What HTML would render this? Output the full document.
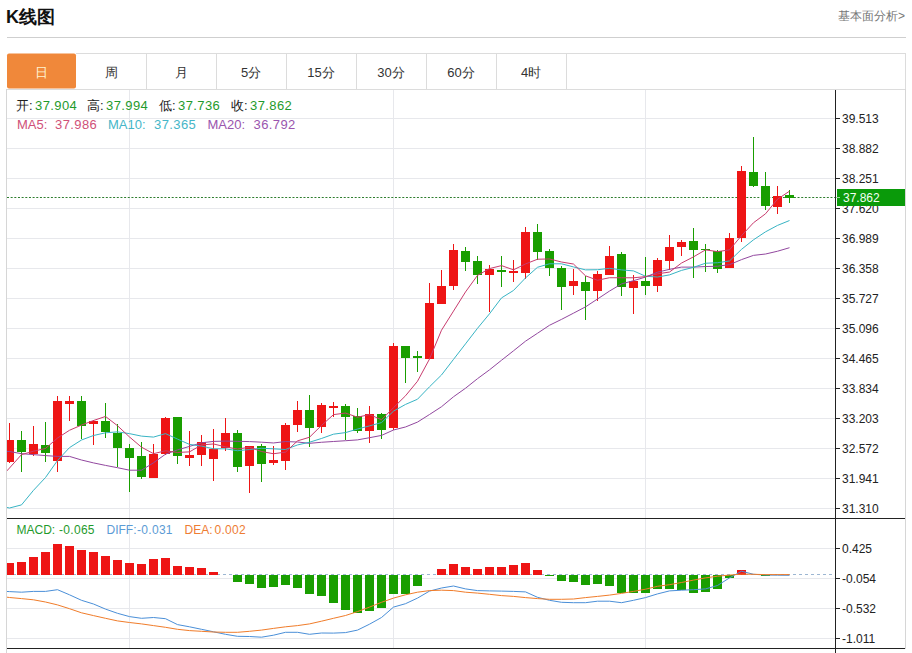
<!DOCTYPE html>
<html><head><meta charset="utf-8"><title>K线图</title>
<style>
html,body{margin:0;padding:0;background:#fff;}
body{width:912px;height:653px;position:relative;overflow:hidden;font-family:"Liberation Sans",sans-serif;}
.a{position:absolute;white-space:nowrap;line-height:1;}
.t{left:6px;top:7.6px;font-size:18px;font-weight:bold;color:#111;}
.lk{right:7px;top:10px;font-size:12px;color:#777;}
.tab{top:65.5px;font-size:13px;color:#333;width:70px;text-align:center;}
.lg{font-size:13px;}.lm{font-size:12px;}
.k{color:#222}.gv{color:#1f9a2c}
.m5{color:#d05078}.m10{color:#45b6c8}.m20{color:#9a55ae}
.v{letter-spacing:0.4px}.v2{letter-spacing:0.3px}
.md{color:#1f9a2c}.df{color:#5b9bd5}.de{color:#ee7d33}
</style></head><body>
<svg width="912" height="653" viewBox="0 0 912 653" style="position:absolute;left:0;top:0"><rect x="7" y="37" width="899" height="1" fill="#cfcfcf"/>
<rect x="76" y="53" width="830" height="1" fill="#dcdcdc"/>
<rect x="6" y="89" width="900" height="1" fill="#dcdcdc"/>
<rect x="905" y="53" width="1" height="36" fill="#dcdcdc"/>
<rect x="146" y="54" width="1" height="35" fill="#dcdcdc"/>
<rect x="216" y="54" width="1" height="35" fill="#dcdcdc"/>
<rect x="286" y="54" width="1" height="35" fill="#dcdcdc"/>
<rect x="356" y="54" width="1" height="35" fill="#dcdcdc"/>
<rect x="426" y="54" width="1" height="35" fill="#dcdcdc"/>
<rect x="496" y="54" width="1" height="35" fill="#dcdcdc"/>
<rect x="566" y="54" width="1" height="35" fill="#dcdcdc"/>
<rect x="7" y="53.6" width="69" height="35" rx="2" ry="2" fill="#f0883a"/>
<rect x="6" y="89" width="1" height="564" fill="#d6d6d6"/>
<rect x="905" y="89" width="1" height="560" fill="#d6d6d6"/>
<rect x="7" y="118" width="828" height="1" fill="#e7e8ec"/><rect x="7" y="148" width="828" height="1" fill="#e7e8ec"/><rect x="7" y="178" width="828" height="1" fill="#e7e8ec"/><rect x="7" y="208" width="828" height="1" fill="#e7e8ec"/><rect x="7" y="238" width="828" height="1" fill="#e7e8ec"/><rect x="7" y="268" width="828" height="1" fill="#e7e8ec"/><rect x="7" y="298" width="828" height="1" fill="#e7e8ec"/><rect x="7" y="328" width="828" height="1" fill="#e7e8ec"/><rect x="7" y="358" width="828" height="1" fill="#e7e8ec"/><rect x="7" y="388" width="828" height="1" fill="#e7e8ec"/><rect x="7" y="418" width="828" height="1" fill="#e7e8ec"/><rect x="7" y="448" width="828" height="1" fill="#e7e8ec"/><rect x="7" y="478" width="828" height="1" fill="#e7e8ec"/><rect x="7" y="508" width="828" height="1" fill="#e7e8ec"/><rect x="7" y="548" width="828" height="1" fill="#e7e8ec"/><rect x="7" y="578" width="828" height="1" fill="#e7e8ec"/><rect x="7" y="608" width="828" height="1" fill="#e7e8ec"/><rect x="7" y="638" width="828" height="1" fill="#e7e8ec"/><rect x="129" y="90" width="1" height="428" fill="#e7e8ec"/><rect x="129" y="519" width="1" height="129" fill="#e7e8ec"/><rect x="393" y="90" width="1" height="428" fill="#e7e8ec"/><rect x="393" y="519" width="1" height="129" fill="#e7e8ec"/><rect x="645" y="90" width="1" height="428" fill="#e7e8ec"/><rect x="645" y="519" width="1" height="129" fill="#e7e8ec"/>
<rect x="835" y="90" width="1" height="563" fill="#222"/>
<rect x="7" y="518" width="898" height="1" fill="#222"/>
<rect x="7" y="648" width="898" height="1" fill="#222"/>
<g font-family="Liberation Sans, sans-serif" font-size="12" fill="#222"><rect x="836" y="118" width="4" height="1" fill="#222"/><text x="842" y="123">39.513</text><rect x="836" y="148" width="4" height="1" fill="#222"/><text x="842" y="153">38.882</text><rect x="836" y="178" width="4" height="1" fill="#222"/><text x="842" y="183">38.251</text><rect x="836" y="208" width="4" height="1" fill="#222"/><text x="842" y="213">37.620</text><rect x="836" y="238" width="4" height="1" fill="#222"/><text x="842" y="243">36.989</text><rect x="836" y="268" width="4" height="1" fill="#222"/><text x="842" y="273">36.358</text><rect x="836" y="298" width="4" height="1" fill="#222"/><text x="842" y="303">35.727</text><rect x="836" y="328" width="4" height="1" fill="#222"/><text x="842" y="333">35.096</text><rect x="836" y="358" width="4" height="1" fill="#222"/><text x="842" y="363">34.465</text><rect x="836" y="388" width="4" height="1" fill="#222"/><text x="842" y="393">33.834</text><rect x="836" y="418" width="4" height="1" fill="#222"/><text x="842" y="423">33.203</text><rect x="836" y="448" width="4" height="1" fill="#222"/><text x="842" y="453">32.572</text><rect x="836" y="478" width="4" height="1" fill="#222"/><text x="842" y="483">31.941</text><rect x="836" y="508" width="4" height="1" fill="#222"/><text x="842" y="513">31.310</text><rect x="836" y="548" width="4" height="1" fill="#222"/><text x="842" y="553">0.425</text><rect x="836" y="578" width="4" height="1" fill="#222"/><text x="842" y="583">-0.054</text><rect x="836" y="608" width="4" height="1" fill="#222"/><text x="842" y="613">-0.532</text><rect x="836" y="638" width="4" height="1" fill="#222"/><text x="842" y="643">-1.011</text></g>
<defs><clipPath id="cp"><rect x="7" y="90" width="828" height="428"/></clipPath><clipPath id="cm"><rect x="7" y="519" width="828" height="129"/></clipPath></defs>
<g clip-path="url(#cp)"><line x1="7" y1="197.5" x2="835" y2="197.5" stroke="#2e7d2e" stroke-width="1" stroke-dasharray="2,1.66"/><rect x="9" y="423" width="1" height="40" fill="rgb(238,21,21)"/><rect x="5" y="440" width="9" height="22" fill="rgb(238,21,21)"/><rect x="21" y="431" width="1" height="41" fill="rgb(25,158,0)"/><rect x="17" y="440" width="9" height="12" fill="rgb(25,158,0)"/><rect x="33" y="426" width="1" height="30" fill="rgb(238,21,21)"/><rect x="29" y="444" width="9" height="10" fill="rgb(238,21,21)"/><rect x="45" y="422" width="1" height="40" fill="rgb(25,158,0)"/><rect x="41" y="445" width="9" height="8" fill="rgb(25,158,0)"/><rect x="57" y="396" width="1" height="76" fill="rgb(238,21,21)"/><rect x="53" y="401" width="9" height="60" fill="rgb(238,21,21)"/><rect x="69" y="396" width="1" height="25" fill="rgb(238,21,21)"/><rect x="65" y="401" width="9" height="3" fill="rgb(238,21,21)"/><rect x="81" y="396" width="1" height="43" fill="rgb(25,158,0)"/><rect x="77" y="401" width="9" height="25" fill="rgb(25,158,0)"/><rect x="93" y="420" width="1" height="25" fill="rgb(238,21,21)"/><rect x="89" y="421" width="9" height="3" fill="rgb(238,21,21)"/><rect x="105" y="403" width="1" height="35" fill="rgb(25,158,0)"/><rect x="101" y="421" width="9" height="11" fill="rgb(25,158,0)"/><rect x="117" y="424" width="1" height="43" fill="rgb(25,158,0)"/><rect x="113" y="433" width="9" height="15" fill="rgb(25,158,0)"/><rect x="129" y="444" width="1" height="48" fill="rgb(25,158,0)"/><rect x="125" y="448" width="9" height="10" fill="rgb(25,158,0)"/><rect x="141" y="442" width="1" height="37" fill="rgb(25,158,0)"/><rect x="137" y="456" width="9" height="21" fill="rgb(25,158,0)"/><rect x="153" y="444" width="1" height="34" fill="rgb(238,21,21)"/><rect x="149" y="454" width="9" height="24" fill="rgb(238,21,21)"/><rect x="165" y="417" width="1" height="38" fill="rgb(238,21,21)"/><rect x="161" y="418" width="9" height="36" fill="rgb(238,21,21)"/><rect x="177" y="417" width="1" height="47" fill="rgb(25,158,0)"/><rect x="173" y="417" width="9" height="39" fill="rgb(25,158,0)"/><rect x="189" y="431" width="1" height="35" fill="rgb(238,21,21)"/><rect x="185" y="455" width="9" height="3" fill="rgb(238,21,21)"/><rect x="201" y="435" width="1" height="31" fill="rgb(238,21,21)"/><rect x="197" y="442" width="9" height="13" fill="rgb(238,21,21)"/><rect x="213" y="429" width="1" height="52" fill="rgb(238,21,21)"/><rect x="209" y="449" width="9" height="10" fill="rgb(238,21,21)"/><rect x="225" y="418" width="1" height="33" fill="rgb(238,21,21)"/><rect x="221" y="433" width="9" height="15" fill="rgb(238,21,21)"/><rect x="237" y="430" width="1" height="42" fill="rgb(25,158,0)"/><rect x="233" y="433" width="9" height="34" fill="rgb(25,158,0)"/><rect x="249" y="446" width="1" height="47" fill="rgb(238,21,21)"/><rect x="245" y="446" width="9" height="20" fill="rgb(238,21,21)"/><rect x="261" y="444" width="1" height="38" fill="rgb(25,158,0)"/><rect x="257" y="446" width="9" height="18" fill="rgb(25,158,0)"/><rect x="273" y="446" width="1" height="19" fill="rgb(238,21,21)"/><rect x="269" y="460" width="9" height="3" fill="rgb(238,21,21)"/><rect x="285" y="423" width="1" height="47" fill="rgb(238,21,21)"/><rect x="281" y="425" width="9" height="36" fill="rgb(238,21,21)"/><rect x="297" y="401" width="1" height="31" fill="rgb(238,21,21)"/><rect x="293" y="410" width="9" height="15" fill="rgb(238,21,21)"/><rect x="309" y="395" width="1" height="52" fill="rgb(25,158,0)"/><rect x="305" y="410" width="9" height="18" fill="rgb(25,158,0)"/><rect x="321" y="403" width="1" height="30" fill="rgb(238,21,21)"/><rect x="317" y="405" width="9" height="22" fill="rgb(238,21,21)"/><rect x="333" y="402" width="1" height="15" fill="rgb(238,21,21)"/><rect x="329" y="406" width="9" height="2" fill="rgb(238,21,21)"/><rect x="345" y="404" width="1" height="36" fill="rgb(25,158,0)"/><rect x="341" y="406" width="9" height="11" fill="rgb(25,158,0)"/><rect x="357" y="408" width="1" height="25" fill="rgb(25,158,0)"/><rect x="353" y="416" width="9" height="15" fill="rgb(25,158,0)"/><rect x="369" y="406" width="1" height="37" fill="rgb(238,21,21)"/><rect x="365" y="414" width="9" height="17" fill="rgb(238,21,21)"/><rect x="381" y="413" width="1" height="26" fill="rgb(25,158,0)"/><rect x="377" y="414" width="9" height="16" fill="rgb(25,158,0)"/><rect x="393" y="343" width="1" height="87" fill="rgb(238,21,21)"/><rect x="389" y="346" width="9" height="82" fill="rgb(238,21,21)"/><rect x="405" y="346" width="1" height="37" fill="rgb(25,158,0)"/><rect x="401" y="346" width="9" height="12" fill="rgb(25,158,0)"/><rect x="417" y="351" width="1" height="21" fill="rgb(25,158,0)"/><rect x="413" y="356" width="9" height="2" fill="rgb(25,158,0)"/><rect x="429" y="283" width="1" height="76" fill="rgb(238,21,21)"/><rect x="425" y="303" width="9" height="56" fill="rgb(238,21,21)"/><rect x="441" y="270" width="1" height="34" fill="rgb(238,21,21)"/><rect x="437" y="286" width="9" height="18" fill="rgb(238,21,21)"/><rect x="453" y="244" width="1" height="46" fill="rgb(238,21,21)"/><rect x="449" y="250" width="9" height="36" fill="rgb(238,21,21)"/><rect x="465" y="247" width="1" height="24" fill="rgb(25,158,0)"/><rect x="461" y="251" width="9" height="11" fill="rgb(25,158,0)"/><rect x="477" y="256" width="1" height="28" fill="rgb(25,158,0)"/><rect x="473" y="261" width="9" height="14" fill="rgb(25,158,0)"/><rect x="489" y="265" width="1" height="47" fill="rgb(238,21,21)"/><rect x="485" y="269" width="9" height="6" fill="rgb(238,21,21)"/><rect x="501" y="256" width="1" height="31" fill="rgb(25,158,0)"/><rect x="497" y="270" width="9" height="2" fill="rgb(25,158,0)"/><rect x="513" y="260" width="1" height="22" fill="rgb(238,21,21)"/><rect x="509" y="271" width="9" height="2" fill="rgb(238,21,21)"/><rect x="525" y="227" width="1" height="52" fill="rgb(238,21,21)"/><rect x="521" y="232" width="9" height="41" fill="rgb(238,21,21)"/><rect x="537" y="224" width="1" height="36" fill="rgb(25,158,0)"/><rect x="533" y="232" width="9" height="20" fill="rgb(25,158,0)"/><rect x="549" y="249" width="1" height="27" fill="rgb(25,158,0)"/><rect x="545" y="251" width="9" height="17" fill="rgb(25,158,0)"/><rect x="561" y="266" width="1" height="44" fill="rgb(25,158,0)"/><rect x="557" y="268" width="9" height="19" fill="rgb(25,158,0)"/><rect x="573" y="269" width="1" height="26" fill="rgb(238,21,21)"/><rect x="569" y="281" width="9" height="5" fill="rgb(238,21,21)"/><rect x="585" y="276" width="1" height="44" fill="rgb(25,158,0)"/><rect x="581" y="282" width="9" height="9" fill="rgb(25,158,0)"/><rect x="597" y="271" width="1" height="30" fill="rgb(238,21,21)"/><rect x="593" y="274" width="9" height="17" fill="rgb(238,21,21)"/><rect x="609" y="246" width="1" height="29" fill="rgb(238,21,21)"/><rect x="605" y="256" width="9" height="19" fill="rgb(238,21,21)"/><rect x="621" y="252" width="1" height="44" fill="rgb(25,158,0)"/><rect x="617" y="254" width="9" height="33" fill="rgb(25,158,0)"/><rect x="633" y="275" width="1" height="39" fill="rgb(238,21,21)"/><rect x="629" y="281" width="9" height="7" fill="rgb(238,21,21)"/><rect x="645" y="257" width="1" height="38" fill="rgb(25,158,0)"/><rect x="641" y="281" width="9" height="5" fill="rgb(25,158,0)"/><rect x="657" y="258" width="1" height="34" fill="rgb(238,21,21)"/><rect x="653" y="260" width="9" height="26" fill="rgb(238,21,21)"/><rect x="669" y="235" width="1" height="35" fill="rgb(238,21,21)"/><rect x="665" y="247" width="9" height="14" fill="rgb(238,21,21)"/><rect x="681" y="240" width="1" height="16" fill="rgb(238,21,21)"/><rect x="677" y="242" width="9" height="5" fill="rgb(238,21,21)"/><rect x="693" y="228" width="1" height="50" fill="rgb(25,158,0)"/><rect x="689" y="241" width="9" height="9" fill="rgb(25,158,0)"/><rect x="705" y="244" width="1" height="28" fill="rgb(25,158,0)"/><rect x="701" y="249" width="9" height="1" fill="rgb(25,158,0)"/><rect x="717" y="250" width="1" height="23" fill="rgb(25,158,0)"/><rect x="713" y="251" width="9" height="18" fill="rgb(25,158,0)"/><rect x="729" y="233" width="1" height="35" fill="rgb(238,21,21)"/><rect x="725" y="238" width="9" height="30" fill="rgb(238,21,21)"/><rect x="741" y="166" width="1" height="76" fill="rgb(238,21,21)"/><rect x="737" y="171" width="9" height="67" fill="rgb(238,21,21)"/><rect x="753" y="137" width="1" height="50" fill="rgb(25,158,0)"/><rect x="749" y="172" width="9" height="14" fill="rgb(25,158,0)"/><rect x="765" y="172" width="1" height="38" fill="rgb(25,158,0)"/><rect x="761" y="186" width="9" height="20" fill="rgb(25,158,0)"/><rect x="777" y="186" width="1" height="28" fill="rgb(238,21,21)"/><rect x="773" y="196" width="9" height="11" fill="rgb(238,21,21)"/><rect x="789" y="190" width="1" height="13" fill="rgb(25,158,0)"/><rect x="785" y="195" width="9" height="3" fill="rgb(25,158,0)"/><polyline points="-2.5,451 9.5,451.5 21.5,453.7 33.5,454.6 45.5,455.6 57.5,456.4 69.5,456.4 81.5,460 93.5,462.9 105.5,465.4 117.5,467.7 129.5,470.2 141.5,470.2 153.5,462.8 165.5,454.2 177.5,449.9 189.5,446.4 201.5,442.8 213.5,441.4 225.5,441.1 237.5,441.3 249.5,441.59 261.5,442.18 273.5,442.96 285.5,441.56 297.5,442.01 309.5,443.32 321.5,442.27 333.5,441.49 345.5,440.72 357.5,439.89 369.5,437.71 381.5,435.41 393.5,430 405.5,426.97 417.5,422.09 429.5,414.5 441.5,406.72 453.5,396.78 465.5,388.24 477.5,378.67 489.5,369.84 501.5,360.25 513.5,350.81 525.5,341.19 537.5,333.25 549.5,325.28 561.5,319.39 573.5,313.16 585.5,306.87 597.5,299.01 609.5,291.07 621.5,283.9 633.5,280.69 645.5,277.07 657.5,272.17 669.5,269.33 681.5,267.12 693.5,267.12 705.5,266.56 717.5,266.23 729.5,264.66 741.5,259.62 753.5,255.36 765.5,254.02 777.5,251.23 789.5,247.71" fill="none" stroke="#92489f" stroke-width="1" stroke-linejoin="round"/><polyline points="-2.5,505.5 9.5,508 21.5,504.9 33.5,490.3 45.5,477.5 57.5,460.5 69.5,447.6 81.5,440 93.5,435.5 105.5,432.8 117.5,431.87 129.5,433.63 141.5,436.12 153.5,437.08 165.5,433.62 177.5,439.08 189.5,444.42 201.5,446.07 213.5,448.8 225.5,448.84 237.5,450.73 249.5,449.54 261.5,448.24 273.5,448.84 285.5,449.51 297.5,444.95 309.5,442.22 321.5,438.47 333.5,434.18 345.5,432.6 357.5,429.04 369.5,425.89 381.5,422.58 393.5,411.15 405.5,404.43 417.5,399.22 429.5,386.79 441.5,374.97 453.5,359.39 465.5,343.87 477.5,328.3 489.5,313.8 501.5,297.91 513.5,290.46 525.5,277.94 537.5,267.29 549.5,263.78 561.5,263.81 573.5,266.93 585.5,269.87 597.5,269.73 609.5,268.35 621.5,269.89 633.5,270.91 645.5,276.21 657.5,277.04 669.5,274.89 681.5,270.42 693.5,267.32 705.5,263.24 717.5,262.73 729.5,260.97 741.5,249.36 753.5,239.8 765.5,231.83 777.5,225.42 789.5,220.52" fill="none" stroke="#38b4c4" stroke-width="1" stroke-linejoin="round"/><polyline points="-2.5,481 9.5,468 21.5,454.6 33.5,451.2 45.5,448.5 57.5,438.02 69.5,430.28 81.5,425.06 93.5,420.5 105.5,416.44 117.5,425.72 129.5,436.98 141.5,447.18 153.5,453.66 165.5,450.8 177.5,452.44 189.5,451.86 201.5,444.96 213.5,443.94 225.5,446.88 237.5,449.02 249.5,447.22 261.5,451.52 273.5,453.74 285.5,452.14 297.5,440.88 309.5,437.22 321.5,425.42 333.5,414.62 345.5,413.06 357.5,417.2 369.5,414.56 381.5,419.74 393.5,407.68 405.5,395.8 417.5,381.24 429.5,359.02 441.5,330.2 453.5,311.1 465.5,291.94 477.5,275.36 489.5,268.58 501.5,265.62 513.5,269.82 525.5,263.94 537.5,259.22 549.5,258.98 561.5,262 573.5,264.04 585.5,275.8 597.5,280.24 609.5,277.72 621.5,277.78 633.5,277.78 645.5,276.62 657.5,273.84 669.5,272.06 681.5,263.06 693.5,256.86 705.5,249.86 717.5,251.62 729.5,249.88 741.5,235.66 753.5,222.74 765.5,213.8 777.5,199.22 789.5,191.16" fill="none" stroke="#c83c6e" stroke-width="1" stroke-linejoin="round"/></g>
<rect x="837" y="189" width="68" height="17" fill="#0a9a0a"/>
<rect x="836" y="197" width="4" height="1" fill="#9fd89f"/>
<text x="843" y="201.8" font-family="Liberation Sans, sans-serif" font-size="12" fill="#f2fff2">37.862</text>
<g clip-path="url(#cm)"><line x1="7" y1="574.5" x2="835" y2="574.5" stroke="#9cb6d2" stroke-width="1" stroke-dasharray="3,3"/><rect x="5" y="563" width="9" height="12" fill="rgb(238,21,21)"/><rect x="17" y="562" width="9" height="13" fill="rgb(238,21,21)"/><rect x="29" y="557" width="9" height="18" fill="rgb(238,21,21)"/><rect x="41" y="552" width="9" height="23" fill="rgb(238,21,21)"/><rect x="53" y="544" width="9" height="31" fill="rgb(238,21,21)"/><rect x="65" y="546" width="9" height="29" fill="rgb(238,21,21)"/><rect x="77" y="550" width="9" height="25" fill="rgb(238,21,21)"/><rect x="89" y="552" width="9" height="23" fill="rgb(238,21,21)"/><rect x="101" y="556" width="9" height="19" fill="rgb(238,21,21)"/><rect x="113" y="560" width="9" height="15" fill="rgb(238,21,21)"/><rect x="125" y="563" width="9" height="12" fill="rgb(238,21,21)"/><rect x="137" y="564" width="9" height="11" fill="rgb(238,21,21)"/><rect x="149" y="559" width="9" height="16" fill="rgb(238,21,21)"/><rect x="161" y="558" width="9" height="17" fill="rgb(238,21,21)"/><rect x="173" y="566" width="9" height="9" fill="rgb(238,21,21)"/><rect x="185" y="567" width="9" height="8" fill="rgb(238,21,21)"/><rect x="197" y="568" width="9" height="7" fill="rgb(238,21,21)"/><rect x="209" y="572" width="9" height="3" fill="rgb(238,21,21)"/><rect x="233" y="575" width="9" height="7" fill="rgb(25,158,0)"/><rect x="245" y="575" width="9" height="9" fill="rgb(25,158,0)"/><rect x="257" y="575" width="9" height="13" fill="rgb(25,158,0)"/><rect x="269" y="575" width="9" height="12" fill="rgb(25,158,0)"/><rect x="281" y="575" width="9" height="10" fill="rgb(25,158,0)"/><rect x="293" y="575" width="9" height="13" fill="rgb(25,158,0)"/><rect x="305" y="575" width="9" height="19" fill="rgb(25,158,0)"/><rect x="317" y="575" width="9" height="21" fill="rgb(25,158,0)"/><rect x="329" y="575" width="9" height="28" fill="rgb(25,158,0)"/><rect x="341" y="575" width="9" height="35" fill="rgb(25,158,0)"/><rect x="353" y="575" width="9" height="38" fill="rgb(25,158,0)"/><rect x="365" y="575" width="9" height="36" fill="rgb(25,158,0)"/><rect x="377" y="575" width="9" height="33" fill="rgb(25,158,0)"/><rect x="389" y="575" width="9" height="19" fill="rgb(25,158,0)"/><rect x="401" y="575" width="9" height="19" fill="rgb(25,158,0)"/><rect x="413" y="575" width="9" height="11" fill="rgb(25,158,0)"/><rect x="437" y="569" width="9" height="6" fill="rgb(238,21,21)"/><rect x="449" y="564" width="9" height="11" fill="rgb(238,21,21)"/><rect x="461" y="567" width="9" height="8" fill="rgb(238,21,21)"/><rect x="473" y="569" width="9" height="6" fill="rgb(238,21,21)"/><rect x="485" y="567" width="9" height="8" fill="rgb(238,21,21)"/><rect x="497" y="567" width="9" height="8" fill="rgb(238,21,21)"/><rect x="509" y="565" width="9" height="10" fill="rgb(238,21,21)"/><rect x="521" y="563" width="9" height="12" fill="rgb(238,21,21)"/><rect x="533" y="570" width="9" height="5" fill="rgb(238,21,21)"/><rect x="545" y="575" width="9" height="1" fill="rgb(25,158,0)"/><rect x="557" y="575" width="9" height="6" fill="rgb(25,158,0)"/><rect x="569" y="575" width="9" height="7" fill="rgb(25,158,0)"/><rect x="581" y="575" width="9" height="10" fill="rgb(25,158,0)"/><rect x="593" y="575" width="9" height="9" fill="rgb(25,158,0)"/><rect x="605" y="575" width="9" height="11" fill="rgb(25,158,0)"/><rect x="617" y="575" width="9" height="18" fill="rgb(25,158,0)"/><rect x="629" y="575" width="9" height="18" fill="rgb(25,158,0)"/><rect x="641" y="575" width="9" height="18" fill="rgb(25,158,0)"/><rect x="653" y="575" width="9" height="14" fill="rgb(25,158,0)"/><rect x="665" y="575" width="9" height="14" fill="rgb(25,158,0)"/><rect x="677" y="575" width="9" height="15" fill="rgb(25,158,0)"/><rect x="689" y="575" width="9" height="18" fill="rgb(25,158,0)"/><rect x="701" y="575" width="9" height="17" fill="rgb(25,158,0)"/><rect x="713" y="575" width="9" height="14" fill="rgb(25,158,0)"/><rect x="725" y="575" width="9" height="3" fill="rgb(25,158,0)"/><rect x="737" y="570" width="9" height="5" fill="rgb(238,21,21)"/><rect x="761" y="575" width="9" height="1" fill="rgb(25,158,0)"/><polyline points="-2.5,591 9.5,591.6 21.5,592.2 33.5,591.4 45.5,591.4 57.5,589.7 69.5,594.8 81.5,600.3 93.5,604 105.5,609.1 117.5,613.3 129.5,616.6 141.5,618.3 153.5,617.5 165.5,618.7 177.5,624.6 189.5,626.8 201.5,629.3 213.5,631.8 225.5,634.3 237.5,636.3 249.5,636.5 261.5,637.2 273.5,635.2 285.5,632.3 297.5,632.3 309.5,634.3 321.5,633 333.5,633.1 345.5,632.6 357.5,630.1 369.5,624.2 381.5,617.5 393.5,607.1 405.5,603.7 417.5,598.1 429.5,591.1 441.5,588 453.5,586 465.5,588.9 477.5,590.6 489.5,590.9 501.5,591.1 513.5,591.4 525.5,591.9 537.5,597.3 549.5,600.3 561.5,602.3 573.5,602.7 585.5,602.7 597.5,601.2 609.5,601.2 621.5,602.7 633.5,600.3 645.5,597.6 657.5,593.9 669.5,590.9 681.5,590.2 693.5,589.7 705.5,588.9 717.5,585.5 729.5,577.9 741.5,571.2 753.5,574.3 765.5,575 777.5,575.2 789.5,575.3" fill="none" stroke="#4a8fd8" stroke-width="1" stroke-linejoin="round"/><polyline points="-2.5,596 9.5,597.5 21.5,598.6 33.5,599.8 45.5,602 57.5,604.9 69.5,608.7 81.5,612.8 93.5,615.6 105.5,618.3 117.5,620.9 129.5,622.5 141.5,623.9 153.5,625.6 165.5,627.3 177.5,629.3 189.5,630.6 201.5,631.3 213.5,632 225.5,632.3 237.5,632.3 249.5,631.3 261.5,630.1 273.5,628.4 285.5,626.8 297.5,625.6 309.5,623.9 321.5,621.2 333.5,618.3 345.5,615.5 357.5,611.6 369.5,607.1 381.5,602.3 393.5,598.1 405.5,594.8 417.5,592.2 429.5,590.6 441.5,590.2 453.5,590.6 465.5,592.2 477.5,593.1 489.5,594.3 501.5,595.6 513.5,596.4 525.5,597.6 537.5,598.6 549.5,599.3 561.5,599.3 573.5,599 585.5,597.6 597.5,596.4 609.5,595.1 621.5,593.4 633.5,591.4 645.5,589.2 657.5,586.3 669.5,584.7 681.5,582.5 693.5,580.1 705.5,577.9 717.5,576.2 729.5,575.1 741.5,574.1 753.5,574.3 765.5,574.6 777.5,574.6 789.5,574.6" fill="none" stroke="#f07c2a" stroke-width="1" stroke-linejoin="round"/></g></svg>
<div class="a t">K线图</div>
<div class="a lk">基本面分析&gt;</div>
<div class="a tab" style="left:6px;color:#fff3d0">日</div>
<div class="a tab" style="left:76px">周</div>
<div class="a tab" style="left:146px">月</div>
<div class="a tab" style="left:216px">5分</div>
<div class="a tab" style="left:286px">15分</div>
<div class="a tab" style="left:356px">30分</div>
<div class="a tab" style="left:426px">60分</div>
<div class="a tab" style="left:496px">4时</div>
<div class="a lg k" style="left:16px;top:99px">开:</div><div class="a lg gv v" style="left:35px;top:99px">37.904</div>
<div class="a lg k" style="left:87px;top:99px">高:</div><div class="a lg gv v" style="left:106px;top:99px">37.994</div>
<div class="a lg k" style="left:159px;top:99px">低:</div><div class="a lg gv v" style="left:178px;top:99px">37.736</div>
<div class="a lg k" style="left:231px;top:99px">收:</div><div class="a lg gv v" style="left:250px;top:99px">37.862</div>
<div class="a lg m5" style="left:17px;top:118px">MA5:</div><div class="a lg m5 v" style="left:55px;top:118px">37.986</div>
<div class="a lg m10" style="left:108px;top:118px">MA10:</div><div class="a lg m10 v" style="left:154px;top:118px">37.365</div>
<div class="a lg m20" style="left:207.5px;top:118px">MA20:</div><div class="a lg m20 v" style="left:253.5px;top:118px">36.792</div>
<div class="a lm md" style="left:16.5px;top:524px">MACD:</div><div class="a lm md v2" style="left:59px;top:524px">-0.065</div>
<div class="a lm df" style="left:106.5px;top:524px">DIFF:</div><div class="a lm df v2" style="left:137px;top:524px">-0.031</div>
<div class="a lm de" style="left:184.5px;top:524px">DEA:</div><div class="a lm de v2" style="left:214.5px;top:524px">0.002</div>
</body></html>
